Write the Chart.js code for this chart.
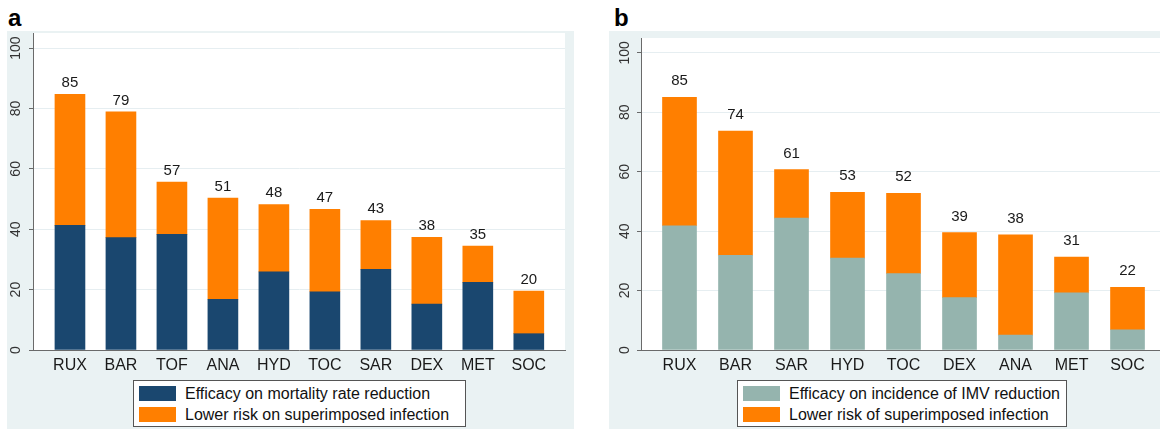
<!DOCTYPE html>
<html>
<head>
<meta charset="utf-8">
<script src="https://cdn.jsdelivr.net/npm/chart.js@4.4.1/dist/chart.umd.min.js"></script>
<style>
html,body{margin:0;padding:0;background:#fff;}
#wrap{position:relative;width:1160px;height:429px;overflow:hidden;font-family:"Liberation Sans",Arial,sans-serif;}
.panel{position:absolute;background:#eaf2f3;}
.panel canvas{position:absolute;left:0;top:0;}
.tag{position:absolute;font-weight:bold;font-size:24px;color:#000;line-height:1;}
.legend{position:absolute;background:#fff;border:1px solid #555;box-sizing:border-box;font-size:16px;color:#111;}
.row{position:absolute;left:5px;height:15px;white-space:nowrap;}
.sw{position:absolute;left:0;top:0;width:37px;height:15px;}
.lt{position:absolute;left:46px;top:-2px;line-height:19px;}
</style>
</head>
<body>
<div id="wrap">
  <div class="tag" style="left:8px;top:6px;">a</div>
  <div class="tag" style="left:614px;top:6px;">b</div>
  <div class="panel" id="pa" style="left:7px;top:31px;width:567px;height:398px;"><canvas id="ca" width="567" height="398"></canvas></div>
  <div class="panel" id="pb" style="left:609px;top:31px;width:551px;height:398px;"><canvas id="cb" width="551" height="398"></canvas></div>
  <div class="legend" id="la" style="left:133px;top:380px;width:333px;height:47px;"></div>
  <div class="legend" id="lb" style="left:737px;top:380px;width:330px;height:47px;"></div>
</div>
<script>
// ---------- Data: panel a ----------
const catsA   = ['RUX','BAR','TOF','ANA','HYD','TOC','SAR','DEX','MET','SOC'];
const mortA   = [41.3, 37.2, 38.3, 16.8, 25.9, 19.3, 26.7, 15.2, 22.4, 5.4];
const infA    = [43.4, 41.7, 17.3, 33.5, 22.3, 27.3, 16.2, 22.1, 12.0, 14.1];
const totLabA = ['85','79','57','51','48','47','43','38','35','20'];
const seriesA = ['Efficacy on mortality rate reduction','Lower risk on superimposed infection'];

// ---------- Data: panel b ----------
const catsB   = ['RUX','BAR','SAR','HYD','TOC','DEX','ANA','MET','SOC'];
const imvB    = [41.8, 31.9, 44.4, 30.9, 25.7, 17.6, 5.0, 19.2, 6.8];
const infB    = [43.2, 41.8, 16.3, 22.2, 27.0, 21.9, 33.8, 12.1, 14.3];
const totLabB = ['85','74','61','53','52','39','38','31','22'];
const seriesB = ['Efficacy on incidence of IMV reduction','Lower risk of superimposed infection'];

const yTicks = [0, 20, 40, 60, 80, 100];

// ---------- Styles ----------
const NAVY = '#1a476f', ORANGE = '#ff7f00', SEA = '#95b4ae';
const GRID = '#e6eef1', AXIS = '#6a6a6a', TXT = '#1a1a1a';

Chart.defaults.font.family = '"Liberation Sans", Arial, sans-serif';
Chart.defaults.color = TXT;

const areaBg = {
  id: 'areaBg',
  beforeDraw(chart) {
    const {ctx, chartArea: a} = chart;
    ctx.save();
    ctx.fillStyle = '#ffffff';
    ctx.fillRect(a.left, a.top, a.right - a.left, a.bottom - a.top);
    ctx.restore();
  }
};

function makeValueLabels(texts, gap) {
  return {
    id: 'valueLabels',
    afterDatasetsDraw(chart) {
      const {ctx, scales: {x, y}} = chart;
      const ds = chart.data.datasets;
      ctx.save();
      ctx.font = '15px "Liberation Sans", Arial, sans-serif';
      ctx.fillStyle = TXT;
      ctx.textAlign = 'center';
      ctx.textBaseline = 'alphabetic';
      texts.forEach((t, i) => {
        const top = ds[0].data[i].y + ds[1].data[i].y;
        ctx.fillText(t, x.getPixelForValue(i), y.getPixelForValue(top) - gap);
      });
      ctx.restore();
    }
  };
}

function build(canvasId, cats, lower, upper, texts, names, colLow, cfg) {
  const pts = arr => cats.map((c, i) => ({x: i, y: arr[i]}));
  return new Chart(document.getElementById(canvasId), {
    type: 'bar',
    data: {
      datasets: [
        {label: names[0], data: pts(lower), backgroundColor: colLow, borderWidth: 0, barThickness: cfg.bw, stack: 's'},
        {label: names[1], data: pts(upper), backgroundColor: ORANGE, borderWidth: 0, barThickness: cfg.bw, stack: 's'}
      ]
    },
    options: {
      responsive: false,
      animation: false,
      devicePixelRatio: 1,
      layout: {padding: {top: cfg.top, right: cfg.right, left: 0, bottom: 0}},
      plugins: {legend: {display: false}, tooltip: {enabled: false}},
      scales: {
        x: {
          type: 'linear', min: cfg.xmin, max: cfg.xmax, offset: false,
          grid: {display: false, drawTicks: false},
          border: {display: true, color: AXIS, width: 1},
          ticks: {
            stepSize: 1, includeBounds: false, autoSkip: false, maxRotation: 0, minRotation: 0,
            padding: 6, color: TXT, font: {size: 16},
            callback: v => (cats[v] !== undefined ? cats[v] : '')
          },
          afterFit: s => { s.height = 79; s.paddingLeft = 0; s.paddingRight = 0; }
        },
        y: {
          type: 'linear', min: 0, max: 105, stacked: true,
          afterBuildTicks: s => { s.ticks = yTicks.map(v => ({value: v})); },
          grid: {color: GRID, lineWidth: 1, tickColor: AXIS, tickLength: 4, drawTicks: true},
          border: {display: true, color: AXIS, width: 1},
          ticks: {minRotation: 90, maxRotation: 90, crossAlign: 'center', padding: cfg.ypad, color: '#333', font: {size: 14}},
          afterFit: s => { s.width = cfg.yw; s.paddingTop = 0; s.paddingBottom = 0; }
        }
      }
    },
    plugins: [areaBg, makeValueLabels(texts, cfg.gap)]
  });
}

build('ca', catsA, mortA, infA, totLabA, seriesA, NAVY,
  {bw: 30, top: 2, right: 9, yw: 26, ypad: 1, xmin: -0.725, xmax: 9.71, gap: 7});
build('cb', catsB, imvB, infB, totLabB, seriesB, SEA,
  {bw: 34, top: 7, right: 0, yw: 32, ypad: 0, xmin: -0.6875, xmax: 8.58, gap: 12});

function legend(id, names, cols) {
  const el = document.getElementById(id);
  names.forEach((n, k) => {
    const row = document.createElement('div');
    row.className = 'row';
    row.style.top = (k === 0 ? 5 : 26) + 'px';
    const sw = document.createElement('div');
    sw.className = 'sw'; sw.style.background = cols[k];
    const t = document.createElement('div');
    t.className = 'lt'; t.textContent = n;
    row.appendChild(sw); row.appendChild(t);
    el.appendChild(row);
  });
}
legend('la', seriesA, [NAVY, ORANGE]);
legend('lb', seriesB, [SEA, ORANGE]);
</script>
</body>
</html>
